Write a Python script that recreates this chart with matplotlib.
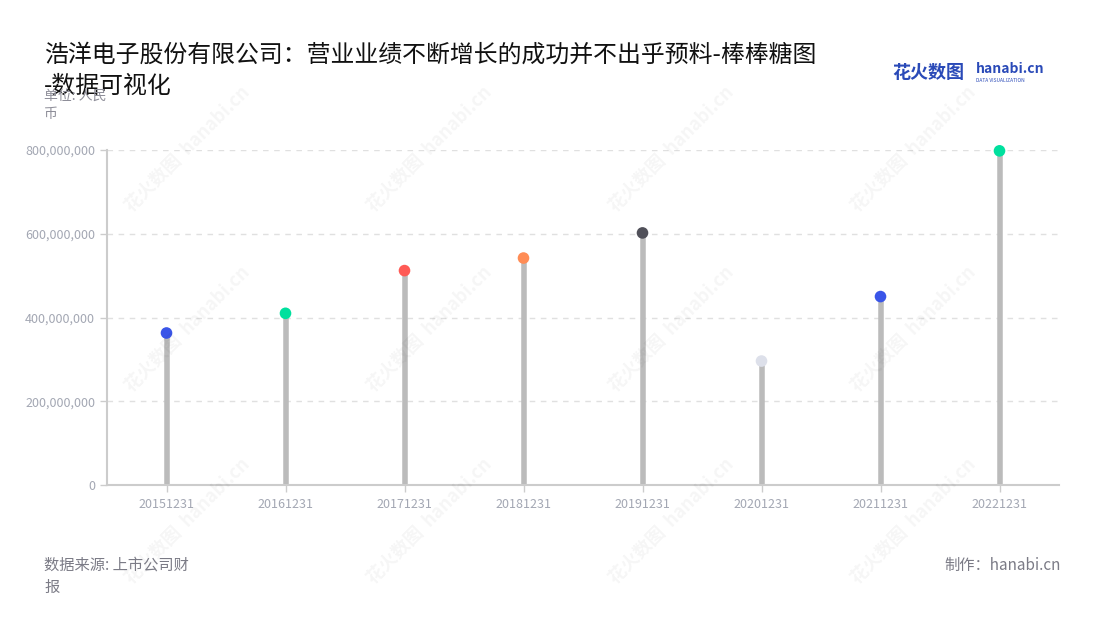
import matplotlib
matplotlib.use("Agg")
import matplotlib.pyplot as plt
from matplotlib.ticker import FuncFormatter

plt.rcParams['font.family'] = ['Noto Sans CJK SC', 'DejaVu Sans']

categories = ["20151231", "20161231", "20171231", "20181231", "20191231", "20201231", "20211231", "20221231"]
values = [363e6, 410e6, 512e6, 542e6, 602e6, 296e6, 450e6, 798e6]
dot_colors = ["#3a55e8", "#00e09e", "#ff5a55", "#ff8c55", "#505059", "#dde0ea", "#3a55e8", "#00e09e"]
yticks = [0, 200e6, 400e6, 600e6, 800e6]

title = "浩洋电子股份有限公司：营业业绩不断增长的成功并不出乎预料-棒棒糖图\n-数据可视化"
unit = "单位: 人民\n币"
source = "数据来源: 上市公司财\n报"
maker = "制作：hanabi.cn"

fig = plt.figure(figsize=(11, 6.2), dpi=100)
ax = fig.add_axes([107/1100, (620-485)/620, (1059-107)/1100, (485-150)/620])

x = list(range(len(categories)))
ax.vlines(x, 0, values, color="#bbbbbb", linewidth=4, zorder=2)
ax.scatter(x, values, s=70, c=dot_colors, zorder=3, linewidths=0, clip_on=False)

ax.set_xlim(-0.5, len(categories) - 0.5)
ax.set_ylim(0, 800e6)
ax.set_xticks(x)
ax.set_xticklabels(categories)
ax.set_yticks(yticks)
ax.yaxis.set_major_formatter(FuncFormatter(lambda v, p: f"{int(v):,}"))
ax.tick_params(axis='both', colors="#cccccc", labelcolor="#a3a7b3", labelsize=9, length=5, width=1)
ax.tick_params(axis='x', pad=4)
ax.grid(axis='y', color="#e0e0e0", linestyle=(0, (4, 4)), linewidth=1)
ax.set_axisbelow(True)
for s in ["top", "right"]:
    ax.spines[s].set_visible(False)
for s in ["left", "bottom"]:
    ax.spines[s].set_color("#cccccc")
    ax.spines[s].set_linewidth(1.5)

# watermarks
for wx in [0.17, 0.39, 0.61, 0.83]:
    for wy in [0.76, 0.47, 0.16]:
        fig.text(wx, wy, "花火数图  hanabi.cn", rotation=45, fontsize=13, color="#000000",
                 alpha=0.04, ha="center", va="center", fontweight="bold")

fig.text(44/1100, 1 - 44/620, title, fontsize=17.2, color="#111111", ha="left", va="top", linespacing=1.45)
fig.text(44/1100, 1 - 89/620, unit, fontsize=10, color="#8e8e99", ha="left", va="top", linespacing=1.35)
fig.text(44/1100, 1 - 557/620, source, fontsize=11, color="#7b7b86", ha="left", va="top", linespacing=1.4)
fig.text(1061/1100, 1 - 557/620, maker, fontsize=11, color="#7b7b86", ha="right", va="top")

fig.text(892/1100, 1 - 72/620, "花火数图", fontsize=13, color="#2a4ab8", ha="left", va="center", fontweight="bold")
fig.text(976/1100, 1 - 69/620, "hanabi.cn", fontsize=10, color="#2a4ab8", ha="left", va="center", fontweight="bold")
fig.text(976/1100, 1 - 80/620, "DATA VISUALIZATION", fontsize=3.5, color="#2a4ab8", ha="left", va="center")

fig.savefig("out.png", dpi=100)
